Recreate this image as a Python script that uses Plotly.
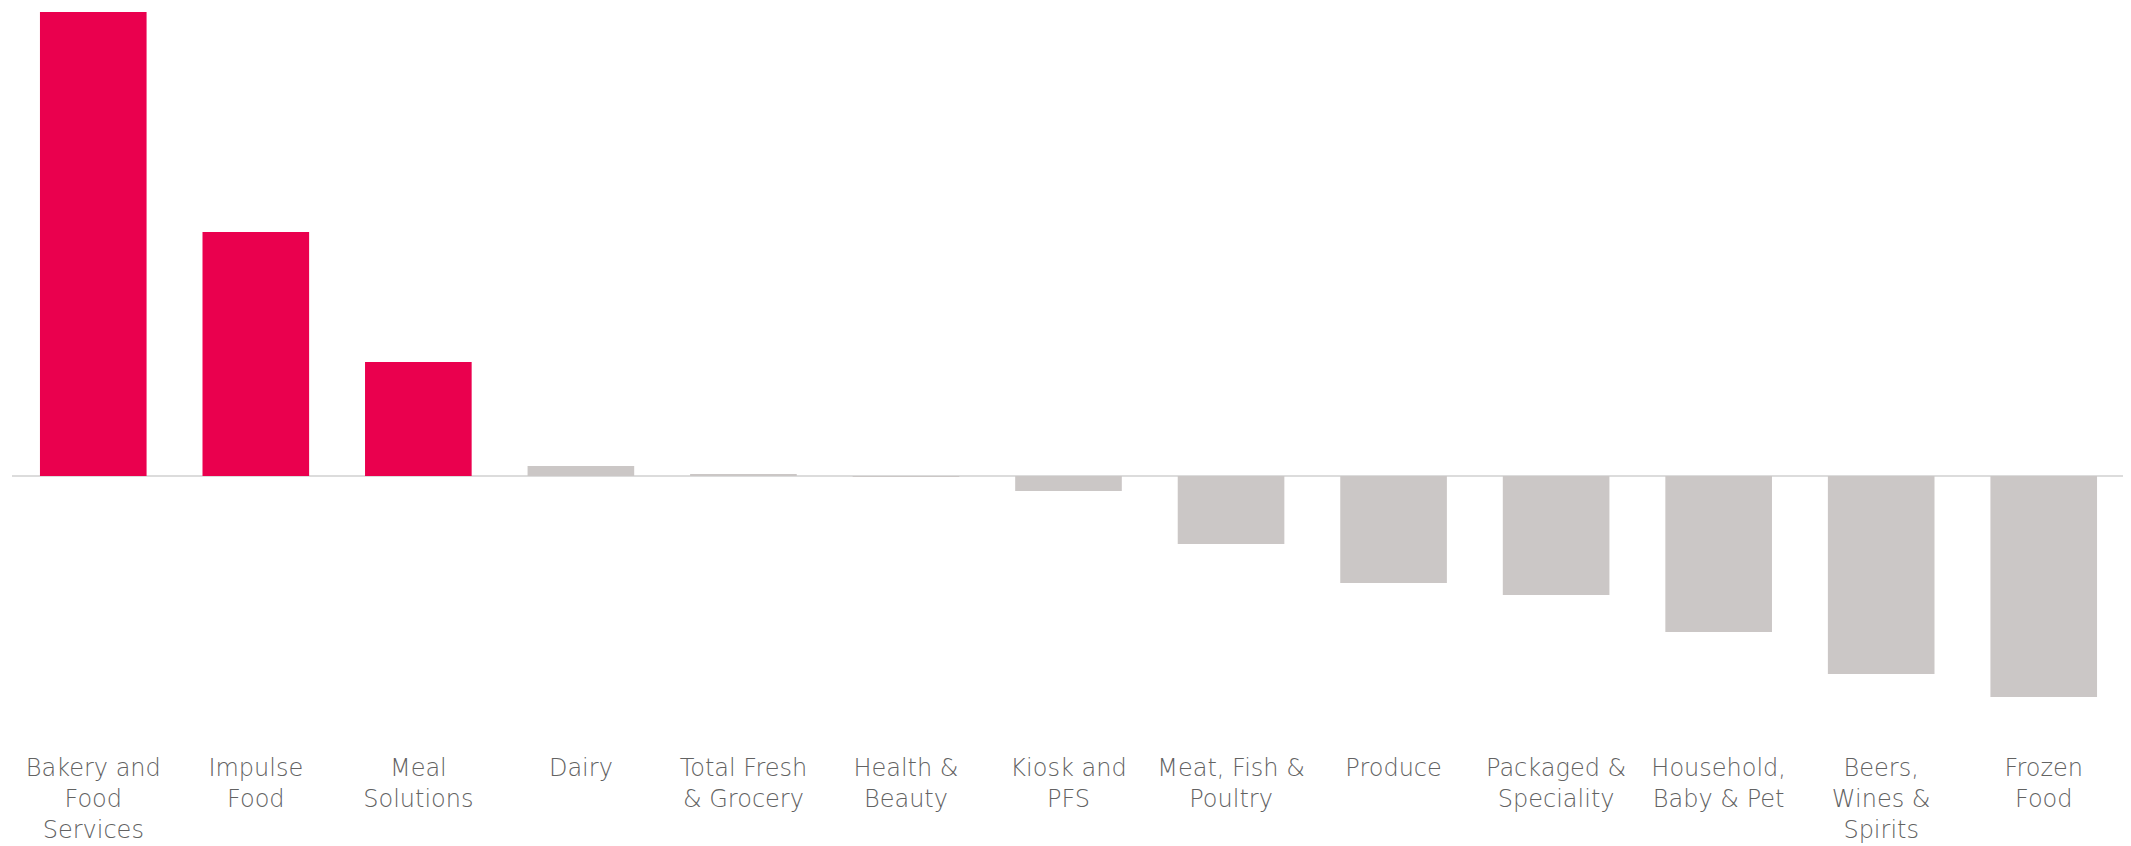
import plotly.graph_objects as go

categories = [
    "Bakery and<br>Food<br>Services", "Impulse<br>Food", "Meal<br>Solutions", "Dairy",
    "Total Fresh<br>& Grocery", "Health &<br>Beauty", "Kiosk and<br>PFS", "Meat, Fish &<br>Poultry",
    "Produce", "Packaged &<br>Speciality", "Household,<br>Baby & Pet", "Beers,<br>Wines &<br>Spirits",
    "Frozen<br>Food",
]
values = [46.4, 24.4, 11.4, 1.0, 0.15, -0.05, -1.5, -6.8, -10.7, -11.9, -15.6, -19.8, -22.1]

PINK = "#EA004E"
GREY = "#CBC7C6"
colors = [PINK if v > 5 else GREY for v in values]

fig = go.Figure(go.Bar(
    x=categories, y=values,
    marker=dict(color=colors, line=dict(width=0)),
    hoverinfo="skip",
))

# page body has an 8px margin, so figure coords = screen coords - 8
W, H = 2131, 838
top_m, bot_m = 0, 98
plot_h = H - top_m - bot_m
zero_px = 468
px_per_unit = 10.0
ymax = (zero_px - top_m) / px_per_unit
ymin = -(plot_h - (zero_px - top_m)) / px_per_unit

tick_font = dict(family="DejaVu Sans", size=24, color="#626262", weight=200)

fig.update_layout(
    width=W, height=H,
    margin=dict(l=4, r=14, t=top_m, b=bot_m, autoexpand=False),
    paper_bgcolor="white", plot_bgcolor="white",
    bargap=0.344,
    showlegend=False,
    font=tick_font,
    xaxis=dict(showgrid=False, showline=False, ticks="", tickfont=tick_font,
               ticklabelstandoff=3, automargin=False),
    yaxis=dict(range=[ymin, ymax], showgrid=False, showticklabels=False, zeroline=True,
               zerolinecolor="#dcdcdc", zerolinewidth=2, showline=False, ticks="", automargin=False),
)

fig.write_html("out.html")
